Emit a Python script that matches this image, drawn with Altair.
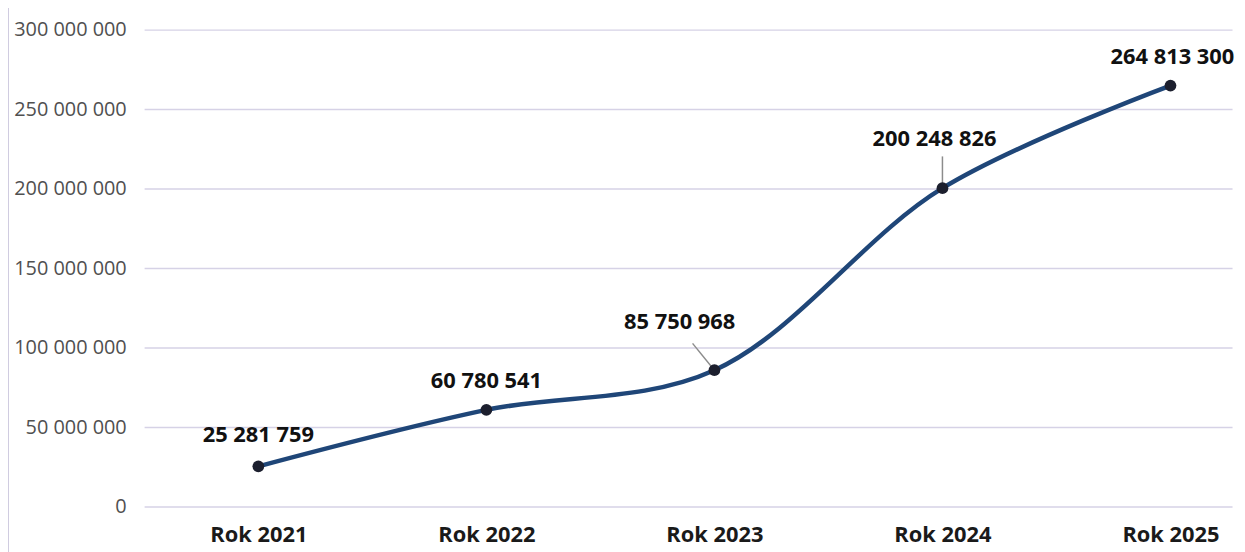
import altair as alt
import pandas as pd

years = ["Rok 2021", "Rok 2022", "Rok 2023", "Rok 2024", "Rok 2025"]
values = [25281759, 60780541, 85750968, 200248826, 264813300]
labels = ["25 281 759", "60 780 541", "85 750 968", "200 248 826", "264 813 300"]

df = pd.DataFrame({"year": years, "idx": list(range(len(years))), "value": values, "label": labels})

FONT = "Open Sans"
year_expr = "[" + ",".join("'%s'" % y for y in years) + "][datum.value]"
x = alt.X("idx:Q", title=None,
          scale=alt.Scale(domain=[-0.501, 4.27], nice=False, zero=False),
          axis=alt.Axis(values=list(range(len(years))), labelExpr=year_expr,
                        labelFont=FONT, labelFontSize=22, labelFontWeight="bold",
                        labelColor="#1a1a1a", domain=False, ticks=False, labelPadding=18, grid=False))
y = alt.Y("value:Q", title=None,
          scale=alt.Scale(domain=[0, 300000000], nice=False),
          axis=alt.Axis(values=[0, 50000000, 100000000, 150000000, 200000000, 250000000, 300000000],
                        labelExpr="replace(format(datum.value, ','), /,/g, ' ')",
                        labelFont=FONT, labelFontSize=20, labelColor="#505050",
                        domain=False, ticks=False, labelPadding=18,
                        gridColor="#d6d2e6", gridWidth=1.5))

base = alt.Chart(df)

line = base.mark_line(color="#1f4678", strokeWidth=4.5, interpolate="catmull-rom").encode(x=x, y=y)
pts = base.mark_point(filled=True, color="#1c1f2e", opacity=1, size=140).encode(x=x, y=y)

def lab(yr, dx, dy):
    return base.transform_filter(alt.datum.year == yr).mark_text(
        font=FONT, fontSize=22, fontWeight="bold", color="#111111", dx=dx, dy=dy
    ).encode(x=x, y=y, text="label:N")

texts = (lab("Rok 2021", 0, -31) + lab("Rok 2022", 0, -29) + lab("Rok 2023", -35, -48)
         + lab("Rok 2024", -8, -49) + lab("Rok 2025", 2, -29))

lead23 = base.transform_filter(alt.datum.year == "Rok 2023").mark_rule(
    color="#8c8c8c", strokeWidth=1.5, x2Offset=-22, y2Offset=-27
).encode(x=x, y=y, x2=alt.X2("idx:Q"), y2=alt.Y2("value:Q"))
lead24 = base.transform_filter(alt.datum.year == "Rok 2024").mark_rule(
    color="#8c8c8c", strokeWidth=1.5, y2Offset=-32
).encode(x=x, y=y, x2=alt.X2("idx:Q"), y2=alt.Y2("value:Q"))

border = alt.Chart(pd.DataFrame({"a": [0]})).mark_rule(color="#d0cce0", strokeWidth=2).encode(
    x=alt.value(-137), y=alt.value(-25), y2=alt.value(540))

chart = alt.layer(border, lead23, lead24, line, pts, texts).properties(
    width=1095, height=480,
    background="white",
    padding={"left": 137, "top": 20, "right": 5, "bottom": 44},
    autosize=alt.AutoSizeParams(type="none"),
).configure_view(stroke=None, strokeWidth=0)

chart.save("out.html", embed_options={"renderer": "svg", "actions": False})
